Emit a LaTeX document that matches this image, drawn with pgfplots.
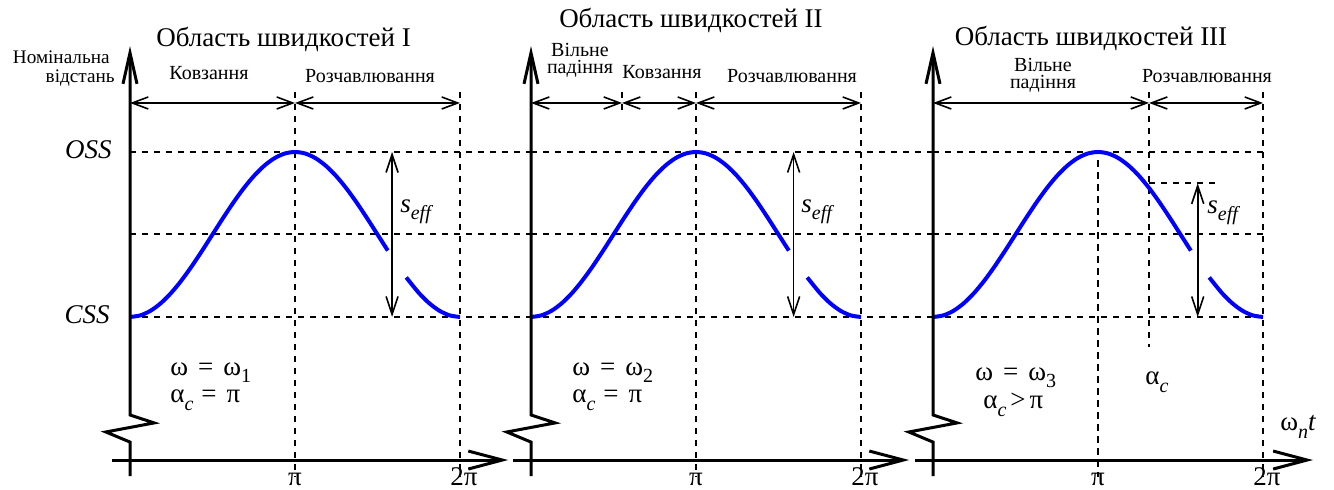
\documentclass[border=0pt]{standalone}
\usepackage{fontspec}
\setmainfont{Liberation Serif}
\usepackage{pgfplots}
\usepackage{pgfplotstable}
\pgfplotsset{compat=1.18}
\usetikzlibrary{arrows.meta}

% gap distance over one cycle, normalised: CSS = 0, OSS = 1
\pgfplotstableread{
x y
0 0
0.19635 0.00961
0.39270 0.03806
0.58905 0.08427
0.78540 0.14645
0.98175 0.22221
1.17810 0.30866
1.37445 0.40245
1.57080 0.5
1.76715 0.59755
1.96350 0.69134
2.15984 0.77779
2.35619 0.85355
2.55254 0.91573
2.74889 0.96194
2.94524 0.99039
3.14159 1
3.33794 0.99039
3.53429 0.96194
3.73064 0.91573
3.92699 0.85355
4.12334 0.77779
4.31969 0.69134
4.51604 0.59755
4.71239 0.5
4.90874 0.40245
}\risetab
\pgfplotstableread{
x y
5.26000 0.23970
5.49779 0.14645
5.69414 0.08427
5.89049 0.03806
6.08684 0.00961
6.28319 0
}\tailtab

\newcommand\titlefont{\fontsize{13.5}{16}\selectfont}
\newcommand\smallfont{\fontsize{10}{12}\selectfont}
\newcommand\tinyfont{\fontsize{9.6}{11}\selectfont}
\newcommand\symfont{\fontsize{13.5}{16}\selectfont}
\newcommand\sub[2][-3.5pt]{\raisebox{#1}{\fontsize{10}{10}\selectfont #2}}

\tikzset{
  axisline/.style={line width=1.5pt, line join=miter},
  guide/.style={line width=1pt, dash pattern=on 3.2pt off 2.8pt},
  phase/.style={line width=0.8pt,
    {Straight Barb[length=8pt,width=6pt]}-{Straight Barb[length=8pt,width=6pt]}},
  seff/.style={line width=0.8pt,
    {Straight Barb[length=9pt,width=6pt]}-{Straight Barb[length=9pt,width=6pt]}},
  curve/.style={blue, line width=2pt, smooth, no markers},
  lbl/.style={inner sep=0pt, anchor=base},
}

\pgfplotsset{
  panel/.style={hide axis, clip=false,
    x=26.26pt, y=82.5pt,
    xmin=-2.4752, xmax=7.616, ymin=-1.0485, ymax=1.9212,
    anchor=south west},
}

\begin{document}
\begin{tikzpicture}
\path[use as bounding box] (0,0) rectangle (667pt,245pt);

% ---------------- speed range I ----------------
\begin{axis}[panel, at={(0pt,0pt)}]
\draw[guide] (0,1) -- (7.635,1);
\draw[guide] (0,0.5) -- (7.635,0.5);
\draw[guide] (0,0) -- (7.635,0);
\draw[guide] (3.14159,1.364) -- (3.14159,-0.97);
\draw[guide] (6.28319,1.364) -- (6.28319,-0.97);
\addplot[curve] table {\risetab};
\addplot[curve] table {\tailtab};
\draw[seff] (4.99,1) -- (4.99,0);
\node[lbl, anchor=base west, font=\symfont] at (5.14,0.636) {\textit{s}\sub{\textit{eff}}};
\draw[phase] (0,1.297) -- (3.14159,1.297);
\draw[phase] (3.14159,1.297) -- (6.28319,1.297);
\draw[axisline, -{Straight Barb[length=15.5pt,width=7pt]}]
  (0,-0.964) -- (0,-0.758) -- (-0.46,-0.697) -- (0.46,-0.642) -- (0,-0.594) -- (0,1.642);
\draw[axisline, -{Straight Barb[length=17pt,width=9pt]}] (-0.343,-0.867) -- (7.2,-0.867);
\node[lbl, font=\titlefont] at (2.923,1.642) {Область швидкостей I};
\node[lbl, anchor=base east, font=\tinyfont] at (-0.381,1.536) {Номінальна};
\node[lbl, anchor=base east, font=\tinyfont] at (-0.286,1.424) {відстань};
\node[lbl, font=\smallfont] at (1.504,1.442) {Ковзання};
\node[lbl, font=\smallfont] at (4.570,1.424) {Розчавлювання};
\node[lbl, anchor=base east, font=\symfont] at (-0.343,0.958) {\textit{OSS}};
\node[lbl, anchor=base east, font=\symfont] at (-0.381,-0.042) {\textit{CSS}};
\node[lbl, anchor=base west, font=\symfont] at (0.762,-0.352) {ω\hspace{5pt}=\hspace{5pt}ω\sub{1}};
\node[lbl, anchor=base west, font=\symfont] at (0.762,-0.521) {α\sub[-4pt]{\textit{c}}\hspace{4pt}=\hspace{5pt}π};
\node[lbl, font=\symfont] at (3.14159,-1.022) {π};
\node[lbl, font=\symfont] at (6.36,-1.022) {2π};
\end{axis}

% ---------------- speed range II ----------------
\begin{axis}[panel, at={(200.5pt,0pt)}]
\draw[guide] (0,1) -- (7.654,1);
\draw[guide] (0,0.5) -- (7.654,0.5);
\draw[guide] (0,0) -- (7.654,0);
\draw[guide] (1.733,1.364) -- (1.733,1.23);
\draw[guide] (3.14159,1.364) -- (3.14159,-0.97);
\draw[guide] (6.28319,1.364) -- (6.28319,-0.97);
\addplot[curve] table {\risetab};
\addplot[curve] table {\tailtab};
\draw[seff] (5.0,1) -- (5.0,0);
\node[lbl, anchor=base west, font=\symfont] at (5.14,0.636) {\textit{s}\sub{\textit{eff}}};
\draw[phase] (0,1.297) -- (1.733,1.297);
\draw[phase] (1.733,1.297) -- (3.14159,1.297);
\draw[phase] (3.14159,1.297) -- (6.28319,1.297);
\draw[axisline, -{Straight Barb[length=15.5pt,width=7pt]}]
  (0,-0.964) -- (0,-0.758) -- (-0.46,-0.697) -- (0.46,-0.642) -- (0,-0.594) -- (0,1.642);
\draw[axisline, -{Straight Barb[length=17pt,width=9pt]}] (-0.343,-0.867) -- (7.2,-0.867);
\node[lbl, font=\titlefont] at (3.046,1.752) {Область швидкостей II};
\node[lbl, font=\smallfont] at (0.933,1.576) {Вільне};
\node[lbl, font=\smallfont] at (0.933,1.473) {падіння};
\node[lbl, font=\smallfont] at (2.494,1.448) {Ковзання};
\node[lbl, font=\smallfont] at (4.970,1.424) {Розчавлювання};
\node[lbl, anchor=base west, font=\symfont] at (0.78,-0.352) {ω\hspace{5pt}=\hspace{5pt}ω\sub{2}};
\node[lbl, anchor=base west, font=\symfont] at (0.78,-0.521) {α\sub[-4pt]{\textit{c}}\hspace{4pt}=\hspace{5pt}π};
\node[lbl, font=\symfont] at (3.14159,-1.022) {π};
\node[lbl, font=\symfont] at (6.36,-1.022) {2π};
\end{axis}

% ---------------- speed range III ----------------
\begin{axis}[panel, at={(401.5pt,0pt)}]
\draw[guide] (0,1) -- (6.28319,1);
\draw[guide] (0,0.5) -- (6.28319,0.5);
\draw[guide] (0,0) -- (6.28319,0);
\draw[guide] (3.14159,0.95) -- (3.14159,-0.97);
\draw[guide] (4.113,1.364) -- (4.113,-0.182);
\draw[guide] (6.28319,1.364) -- (6.28319,-0.97);
\draw[guide] (4.113,0.81) -- (5.369,0.81);
\addplot[curve] table {\risetab};
\addplot[curve] table {\tailtab};
\draw[seff] (5.04,0.81) -- (5.04,0);
\node[lbl, anchor=base west, font=\symfont] at (5.217,0.63) {\textit{s}\sub{\textit{eff}}};
\draw[phase] (0,1.297) -- (4.113,1.297);
\draw[phase] (4.113,1.297) -- (6.28319,1.297);
\draw[axisline, -{Straight Barb[length=15.5pt,width=7pt]}]
  (0,-0.964) -- (0,-0.758) -- (-0.46,-0.697) -- (0.46,-0.642) -- (0,-0.594) -- (0,1.642);
\draw[axisline, -{Straight Barb[length=17pt,width=9pt]}] (-0.343,-0.867) -- (7.235,-0.867);
\node[lbl, font=\titlefont] at (3.008,1.648) {Область швидкостей III};
\node[lbl, font=\smallfont] at (2.094,1.485) {Вільне};
\node[lbl, font=\smallfont] at (2.094,1.382) {падіння};
\node[lbl, font=\smallfont] at (5.217,1.424) {Розчавлювання};
\node[lbl, anchor=base west, font=\symfont] at (0.80,-0.382) {ω\hspace{5pt}=\hspace{5pt}ω\sub{3}};
\node[lbl, anchor=base west, font=\symfont] at (0.952,-0.552) {α\sub[-4pt]{\textit{c}}\hspace{2pt}>\hspace{2pt}π};
\node[lbl, anchor=base west, font=\symfont] at (4.037,-0.412) {α\sub[-4pt]{\textit{c}}};
\node[lbl, anchor=base west, font=\symfont] at (6.607,-0.685) {ω\sub[-4pt]{\textit{n}}\textit{t}};
\node[lbl, font=\symfont] at (3.14159,-1.022) {π};
\node[lbl, font=\symfont] at (6.36,-1.022) {2π};
\end{axis}
\end{tikzpicture}
\end{document}
